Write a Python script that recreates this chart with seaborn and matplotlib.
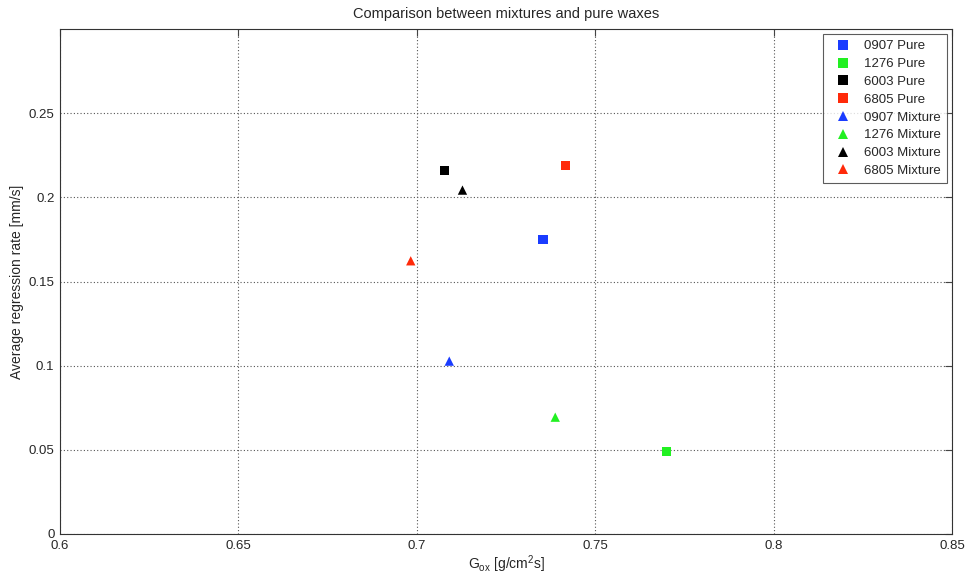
import numpy as np
import pandas as pd
import matplotlib
matplotlib.use("Agg")
import matplotlib.pyplot as plt
import seaborn as sns

labels = ["0907 Pure", "1276 Pure", "6003 Pure", "6805 Pure",
          "0907 Mixture", "1276 Mixture", "6003 Mixture", "6805 Mixture"]
gox = [0.7354, 0.7700, 0.7077, 0.7416, 0.7091, 0.7388, 0.7128, 0.6983]
rate = [0.1748, 0.0492, 0.2158, 0.2190, 0.1027, 0.0694, 0.2043, 0.1623]
colors = ["#1a3cff", "#22f022", "#000000", "#ff2a0a",
          "#1a3cff", "#22f022", "#000000", "#ff2a0a"]
markers = ["s", "s", "s", "s", "^", "^", "^", "^"]
xticks = [0.6, 0.65, 0.7, 0.75, 0.8, 0.85]
yticks = [0, 0.05, 0.1, 0.15, 0.2, 0.25]

sns.set_style("white")
plt.rcParams['font.family'] = ['Liberation Sans', 'DejaVu Sans']
plt.rcParams['mathtext.fontset'] = 'custom'
plt.rcParams['mathtext.rm'] = 'Liberation Sans'
plt.rcParams['mathtext.it'] = 'Liberation Sans'

df = pd.DataFrame({"label": labels, "gox": gox, "rate": rate})

fig = plt.figure(figsize=(9.68, 5.75), dpi=100)
ax = fig.add_axes([60/968, 41/575, 892/968, 505/575])

sns.scatterplot(data=df, x="gox", y="rate", hue="label", style="label",
                hue_order=labels, style_order=labels,
                palette=dict(zip(labels, colors)),
                markers=dict(zip(labels, markers)),
                s=45, linewidth=0, ax=ax, zorder=3)

ax.set_xlim(0.6, 0.85)
ax.set_ylim(0, 0.3)
ax.set_xticks(xticks)
ax.set_xticklabels([f"{v:g}" for v in xticks])
ax.set_yticks(yticks)
ax.set_yticklabels([f"{v:g}" for v in yticks])
ax.grid(True, linestyle=(0, (1, 2)), color="#555555", linewidth=0.8)
ax.tick_params(direction="in", length=5, top=True, right=True,
               labelsize=9.5, color="#444444", pad=4)
for s in ax.spines.values():
    s.set_color("#333333")
    s.set_linewidth(0.8)

ax.set_title("Comparison between mixtures and pure waxes", fontsize=10.5, pad=8)
ax.set_xlabel(r"G$_{\mathrm{ox}}$ [g/cm$^{2}$s]", fontsize=10, labelpad=1)
ax.set_ylabel("Average regression rate [mm/s]", fontsize=10, labelpad=3)

leg = ax.legend(loc="upper right", fontsize=9.5, frameon=True, fancybox=False,
                borderaxespad=0.35, handletextpad=0.6, labelspacing=0.42,
                borderpad=0.5, markerscale=1.0)
leg.get_frame().set_edgecolor("#333333")
leg.get_frame().set_linewidth(0.8)

fig.savefig("out.png", dpi=100)
